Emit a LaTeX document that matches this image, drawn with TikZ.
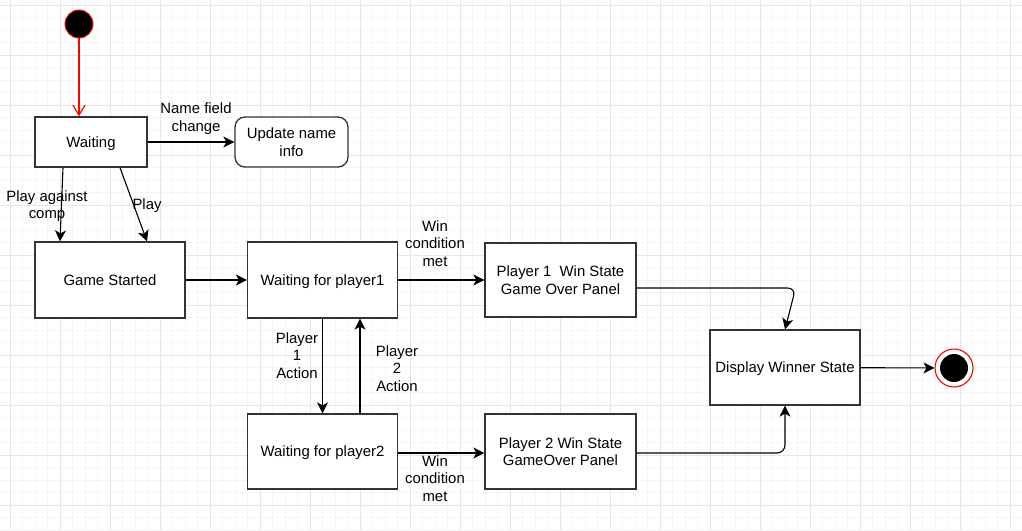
\documentclass[tikz,border=0pt]{standalone}
\usepackage{fontspec}
\setmainfont{Liberation Sans}
\usetikzlibrary{arrows.meta}
\definecolor{gridminor}{HTML}{F5F5F5}
\definecolor{gridmajor}{HTML}{E6E6E6}
\definecolor{boxline}{HTML}{333333}
\definecolor{umlred}{HTML}{FF0000}
\tikzset{
  txt/.style={font={\fontsize{14.9}{17.5}\selectfont}, align=center, inner sep=0pt},
  state/.style={txt, draw=boxline, line width=1.3pt, fill=white, rectangle},
  oneline/.style={text depth=0pt},
  arr/.style={draw=black, line width=1.1pt, -{Stealth[length=11pt,width=11pt,inset=3pt]}},
  lbl/.style={txt},
}
\begin{document}
\begin{tikzpicture}[x=1pt,y=-1pt]
\useasboundingbox (0,0) rectangle (1022,530);
\fill[white] (0,0) rectangle (1022,530);
% grid
\foreach \x in {-2.5,10,...,1030} \draw[gridminor, line width=0.8pt] (\x,0) -- (\x,530);
\foreach \y in {-7.5,5,...,540} \draw[gridminor, line width=0.8pt] (0,\y) -- (1022,\y);
\foreach \x in {10,60,...,1030} \draw[gridmajor, line width=0.9pt] (\x,0) -- (\x,530);
\foreach \y in {5,55,...,540} \draw[gridmajor, line width=0.9pt] (0,\y) -- (1022,\y);

% nodes
\node[circle, fill=black, draw=umlred, line width=0.9pt, minimum size=28pt, inner sep=0pt] (init) at (79,24) {};
\node[state, oneline, minimum width=112pt, minimum height=50pt] (wait) at (91,142) {Waiting};
\node[state, rounded corners=10pt, minimum width=113pt, minimum height=50pt] (upd) at (291.5,142) {Update name\\info};
\node[state, oneline, minimum width=150pt, minimum height=76pt] (gs) at (110,280) {Game Started};
\node[state, oneline, minimum width=150pt, minimum height=76pt] (wp1) at (322.5,280) {Waiting for player1};
\node[state, oneline, minimum width=150pt, minimum height=75pt] (wp2) at (322.5,451.5) {Waiting for player2};
\node[state, minimum width=151pt, minimum height=74pt] (p1w) at (560.5,280) {Player 1\ \ Win State\\Game Over Panel};
\node[state, minimum width=151pt, minimum height=75pt] (p2w) at (560.5,451.5) {Player 2 Win State\\GameOver Panel};
\node[state, oneline, minimum width=150pt, minimum height=75pt] (disp) at (785,367.5) {Display Winner State};
\node[circle, fill=white, draw=umlred, line width=1.1pt, minimum size=38pt, inner sep=0pt] (end) at (954,368) {};
\node[circle, fill=black, minimum size=28pt, inner sep=0pt] (endin) at (end.center) {};

% connectors
\draw[umlred, line width=1.2pt, -{Straight Barb[length=10pt,width=12pt]}] (init) -- (init |- wait.north);
\draw[arr] (wait) -- (upd);
\draw[arr] ([xshift=-28pt]wait.south) -- ([xshift=-50pt]gs.north);
\draw[arr] ([xshift=29pt]wait.south) -- ([xshift=37pt]gs.north);
\draw[arr] (gs) -- (wp1);
\draw[arr] (wp1.south) -- (wp2.north);
\draw[arr] ([xshift=37.5pt]wp2.north) -- ([xshift=37.5pt]wp1.south);
\draw[arr] (wp1) -- (p1w);
\draw[arr] ([yshift=-1.5pt]wp2.east) -- ([yshift=-1.5pt]wp2.east -| p2w.west);
\draw[arr, rounded corners=8pt] ([yshift=-8pt]p1w.east) -- ++(159,0) -- (disp.north);
\draw[arr, rounded corners=8pt] ([yshift=-1.5pt]p2w.east) -- ([yshift=-1.5pt]p2w.east -| disp.south) -- (disp.south);
\draw[arr] (disp) -- (end);

% labels
\node[lbl] (l1) at (196,118.5) {Name field\\change};
\node[lbl] (l2) at (47,206) {Play against\\comp};
\node[lbl] (l3) at (147,206) {Play};
\node[lbl] (l4) at (435,243.5) {Win\\condition\\met};
\node[lbl] (l5) at (297,355.5) {Player\\1\\Action};
\node[lbl] (l6) at (397,368.5) {Player\\2\\Action};
\node[lbl] (l7) at (435,478.5) {Win\\condition\\met};
\end{tikzpicture}
\end{document}
